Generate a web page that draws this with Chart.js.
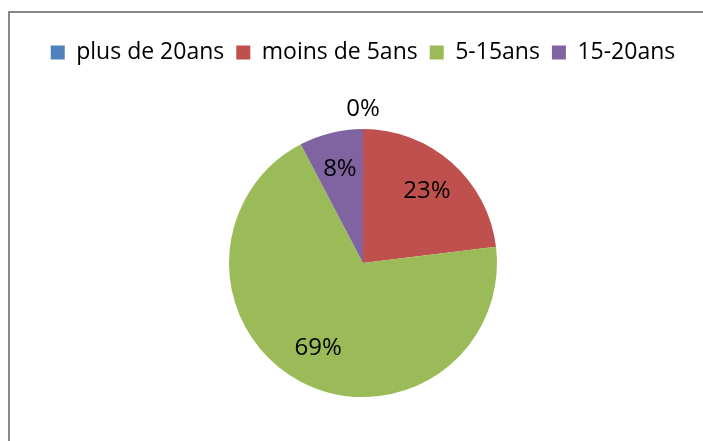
<!DOCTYPE html>
<html>
<head>
<meta charset="utf-8">
<script src="https://cdn.jsdelivr.net/npm/chart.js@4.4.1/dist/chart.umd.min.js"></script>
<style>
html,body{margin:0;padding:0;background:#fff;overflow:hidden;width:703px;height:441px;}
#frame{position:absolute;left:8px;top:11px;width:800px;height:600px;border-left:2px solid #898989;border-top:2px solid #898989;}
#wrap{position:absolute;left:0;top:0;}
</style>
</head>
<body>
<div id="frame"></div>
<div id="wrap"><canvas id="pie" width="703" height="480"></canvas></div>
<script>
var groups=['plus de 20ans','moins de 5ans','5-15ans','15-20ans'];
var counts=[0,3,9,1];
var colors=['#4F81BD','#C0504D','#9BBB59','#8064A2'];

var pctLabels={
	id:'pctLabels',
	afterDatasetsDraw:function(chart){
		var ctx=chart.ctx;
		var data=chart.data.datasets[0].data;
		var total=0;
		for(var i=0;i<data.length;i++){total+=data[i];}
		var arcs=chart.getDatasetMeta(0).data;
		ctx.save();
		ctx.font='24px "Open Sans"';
		ctx.fillStyle='#000';
		ctx.textAlign='center';
		ctx.textBaseline='middle';
		arcs.forEach(function(arc,i){
			var p=arc.getProps(['x','y','startAngle','endAngle','outerRadius'],true);
			var mid=(p.startAngle+p.endAngle)/2;
			var d=data[i]==0 ? p.outerRadius+20 : p.outerRadius*0.72;
			var txt=Math.round(data[i]/total*100)+'%';
			ctx.fillText(txt,p.x+Math.cos(mid)*d,p.y+Math.sin(mid)*d);
		});
		ctx.restore();
	}
};

function draw(){
	new Chart(document.getElementById('pie'),{
		type:'pie',
		data:{
			labels:groups,
			datasets:[{
				data:counts,
				backgroundColor:colors,
				borderWidth:0,
				radius:134
			}]
		},
		options:{
			responsive:false,
			animation:false,
			layout:{padding:{left:28,right:5,top:29,bottom:28}},
			plugins:{
				legend:{
					position:'top',
					labels:{
						boxWidth:14,
						boxHeight:14,
						padding:12,
						color:'#000',
						font:{family:'Open Sans',size:23}
					}
				},
				tooltip:{enabled:false}
			}
		},
		plugins:[pctLabels]
	});
}

if(document.fonts&&document.fonts.load){
	Promise.all([document.fonts.load('23px "Open Sans"'),document.fonts.load('24px "Open Sans"')]).then(draw,draw);
}else{draw();}
</script>
</body>
</html>
